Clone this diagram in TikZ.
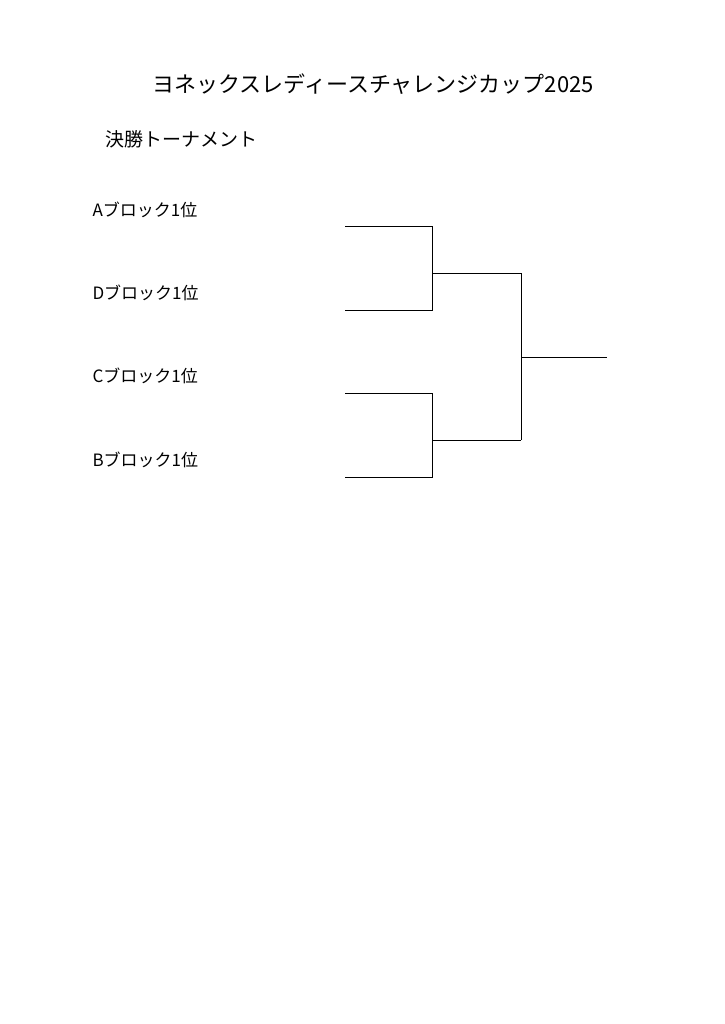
\documentclass[tikz,border=0pt]{standalone}
\usepackage{fontspec}
\setmainfont{Noto Sans CJK JP}
\begin{document}
\begin{tikzpicture}[x=1pt,y=-1pt,line width=1pt,
  lbl/.style={anchor=west,inner sep=0pt,font=\fontsize{17}{19}\selectfont}]
\useasboundingbox (0,0) rectangle (724,1024);
\node[inner sep=0pt,font=\fontsize{22}{25}\selectfont] (title) at (373,84) {ヨネックスレディースチャレンジカップ2025};
\node[anchor=west,inner sep=0pt,font=\fontsize{19}{21}\selectfont] (sub) at (105,139) {決勝トーナメント};
\node[lbl] (a) at (92,210) {Aブロック1位};
\node[lbl] (d) at (92,293) {Dブロック1位};
\node[lbl] (c) at (92,376) {Cブロック1位};
\node[lbl] (b) at (92,460) {Bブロック1位};
\coordinate (a1) at (345,227); \coordinate (d1) at (345,310);
\coordinate (c1) at (345,393); \coordinate (b1) at (345,477);
\coordinate (s1) at (521,273); \coordinate (s2) at (521,440);
\coordinate (w) at (607,357);
\draw (a1) -- (432,227) -- (432,310) -- (d1);
\draw (432,273) -- (s1);
\draw (c1) -- (432,393) -- (432,477) -- (b1);
\draw (432,440) -- (s2);
\draw (s1) -- (s2);
\draw (521,357) -- (w);
\end{tikzpicture}
\end{document}
